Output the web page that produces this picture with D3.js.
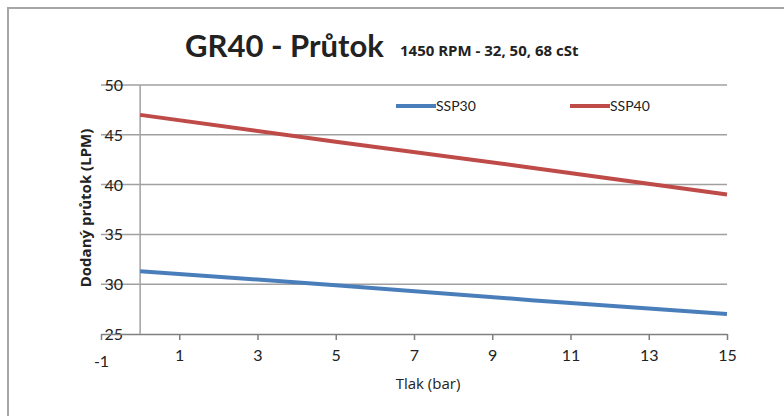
<!DOCTYPE html>
<html>
<head>
<meta charset="utf-8">
<script src="https://cdn.jsdelivr.net/npm/d3@7"></script>
<style>
  body { margin: 0; background: #fff; }
  svg { display: block; font-family: Lato, "Open Sans", sans-serif; }
</style>
</head>
<body>
<svg id="chart" width="784" height="416"></svg>
<script>
// data
const pressure = [0, 5, 10, 15];
const ssp30 = [31.3, 29.9, 28.4, 27.0];
const ssp40 = [47.0, 44.3, 41.7, 39.0];
const seriesNames = ['SSP30', 'SSP40'];
const xTicks = [-1, 1, 3, 5, 7, 9, 11, 13, 15];
const yTicks = [25, 30, 35, 40, 45, 50];

const colors = ['#4a7ebb', '#be4b48'];
const series = [ssp30, ssp40];

const svg = d3.select('#chart');

// outer frame (cut off at right/bottom edge like the original)
svg.append('rect')
    .attr('x', 8).attr('y', 8)
    .attr('width', 800).attr('height', 430)
    .attr('fill', 'none')
    .attr('stroke', '#a6a6a6')
    .attr('stroke-width', 2);

const x = d3.scaleLinear().domain([-1, 15]).range([101, 727]);
const y = d3.scaleLinear().domain([25, 50]).range([334, 85]);

// gridlines
svg.append('g')
    .selectAll('line')
    .data(yTicks.filter(d => d > 25))
    .join('line')
    .attr('x1', x(-1)).attr('x2', x(15))
    .attr('y1', d => y(d)).attr('y2', d => y(d))
    .attr('stroke', '#a0a0a0')
    .attr('stroke-width', 1.5);

// y tick labels
svg.append('g')
    .selectAll('text')
    .data(yTicks)
    .join('text')
    .attr('x', 123)
    .attr('y', d => y(d) + 6)
    .attr('text-anchor', 'end')
    .attr('font-size', 16)
    .attr('fill', '#222')
    .text(d => d);

// x axis
const xAxis = svg.append('g')
    .attr('transform', `translate(0,${y(25)})`)
    .call(d3.axisBottom(x).tickValues(xTicks).tickFormat(d => String(d))
        .tickSize(6).tickSizeOuter(0).tickPadding(10));
xAxis.select('.domain').attr('stroke', '#7f7f7f').attr('stroke-width', 1.5);
xAxis.selectAll('.tick line').attr('stroke', '#7f7f7f').attr('stroke-width', 1.5);
xAxis.selectAll('.tick text')
    .attr('font-size', 16)
    .attr('font-family', 'Lato, "Open Sans", sans-serif')
    .attr('fill', '#222')
    .attr('dy', d => d === -1 ? '1.05em' : '0.71em');

// vertical axis at x = 0
svg.append('line')
    .attr('x1', x(0)).attr('x2', x(0))
    .attr('y1', y(50)).attr('y2', y(25))
    .attr('stroke', '#a0a0a0')
    .attr('stroke-width', 1.5);

// lines
const line = d3.line()
    .x((d, i) => x(pressure[i]))
    .y(d => y(d));

svg.append('g')
    .selectAll('path')
    .data(series)
    .join('path')
    .attr('d', d => line(d))
    .attr('fill', 'none')
    .attr('stroke', (d, i) => colors[i])
    .attr('stroke-width', 4);

// legend
const legendX = [396, 570];
const legend = svg.append('g')
    .selectAll('g')
    .data(seriesNames)
    .join('g')
    .attr('transform', (d, i) => `translate(${legendX[i]},106)`);
legend.append('line')
    .attr('x1', 0).attr('x2', 40)
    .attr('stroke', (d, i) => colors[i])
    .attr('stroke-width', 4);
legend.append('text')
    .attr('x', 40).attr('y', 5)
    .attr('font-size', 14)
    .attr('fill', '#222')
    .text(d => d);

// title
svg.append('text')
    .attr('x', 185).attr('y', 57)
    .attr('fill', '#222')
    .attr('font-weight', 'bold')
    .attr('font-size', 31)
    .text('GR40 - Průtok');
svg.append('text')
    .attr('x', 400).attr('y', 56)
    .attr('fill', '#222')
    .attr('font-weight', 'bold')
    .attr('font-family', '"Open Sans", sans-serif')
    .attr('font-size', 15)
    .text('1450 RPM - 32, 50, 68 cSt');

// axis titles
svg.append('text')
    .attr('transform', `translate(91,208) rotate(-90)`)
    .attr('text-anchor', 'middle')
    .attr('font-family', '"Open Sans", sans-serif')
    .attr('font-size', 15)
    .attr('font-weight', 'bold')
    .attr('fill', '#222')
    .text('Dodaný průtok (LPM)');

svg.append('text')
    .attr('x', 428).attr('y', 389)
    .attr('text-anchor', 'middle')
    .attr('font-family', '"Open Sans", sans-serif')
    .attr('font-size', 15)
    .attr('fill', '#222')
    .text('Tlak (bar)');
</script>
</body>
</html>
